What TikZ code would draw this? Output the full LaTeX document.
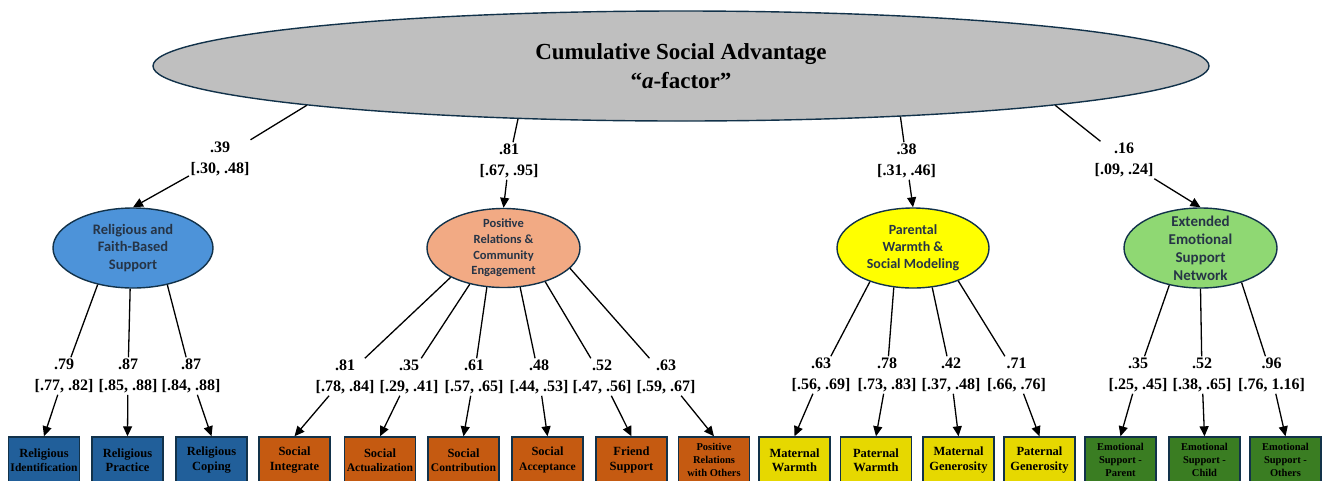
\documentclass[tikz,border=0pt]{standalone}
\usepackage{fontspec}
\setmainfont{Liberation Serif}
\newfontfamily\carl{Carlito}
\usetikzlibrary{arrows.meta,shapes.geometric,calc}
\definecolor{edgeblue}{HTML}{12324A}
\definecolor{lattext}{HTML}{263446}
\definecolor{topgray}{HTML}{BFBFBF}
\definecolor{relfill}{HTML}{4D93D9}
\definecolor{prcfill}{HTML}{F2AA84}
\definecolor{parfill}{HTML}{FFFF00}
\definecolor{extfill}{HTML}{8FD873}
\definecolor{relbox}{HTML}{215F9A}
\definecolor{prcbox}{HTML}{C55A11}
\definecolor{parbox}{HTML}{E6D800}
\definecolor{extbox}{HTML}{3A7D22}
\begin{document}
\begin{tikzpicture}[x=1pt,y=-1pt,
  lat/.style={ellipse, draw=edgeblue, line width=1.4pt, inner sep=0pt, inner ysep=-10pt, align=center, text=lattext},
  obs/.style={rectangle, draw=edgeblue, line width=1.4pt, minimum width=71pt, minimum height=46pt, inner sep=0pt, align=center, text=black, font=\bfseries\fontsize{12.5}{14.5}\selectfont},
  small3/.style={font=\bfseries\fontsize{10.5}{13}\selectfont},
  lbl/.style={align=center, inner sep=1.5pt, font=\bfseries\fontsize{16}{21}\selectfont},
  ln/.style={line width=1.3pt, black},
  arr/.style={ln, -{Triangle[length=10pt,width=9pt]}}
]
\useasboundingbox (0,0) rectangle (1322,480);
\newcommand\nw[1]{{\fontsize{11.6}{14.5}\selectfont #1}}

% top latent
\node[lat, fill=topgray, minimum width=1056pt, minimum height=110pt, text=black,
  font=\bfseries\fontsize{23}{29}\selectfont] (top) at (681,66)
  {Cumulative Social Advantage\\“\textit{a}-factor”};

% first-order latents
\node[lat, fill=relfill, minimum width=160pt, minimum height=80pt,
  font=\carl\bfseries\fontsize{14.5}{17.7}\selectfont] (rel) at (133,248)
  {Religious and\\Faith-Based\\Support};
\node[lat, fill=prcfill, minimum width=153pt, minimum height=79pt,
  font=\carl\bfseries\fontsize{12.5}{15.7}\selectfont] (prc) at (503.5,248)
  {Positive\\Relations \&\\Community\\Engagement};
\node[lat, fill=parfill, minimum width=152pt, minimum height=80pt,
  font=\carl\bfseries\fontsize{14}{17}\selectfont] (par) at (913,248)
  {Parental\\Warmth \&\\Social Modeling};
\node[lat, fill=extfill, minimum width=153pt, minimum height=80pt,
  font=\carl\bfseries\fontsize{15}{18}\selectfont] (ext) at (1200.5,248)
  {Extended\\Emotional\\Support\\Network};

% observed boxes
\node[obs, fill=relbox] (b1) at (44,460) {Religious\\\nw{Identification}};
\node[obs, fill=relbox] (b2) at (127.5,460) {Religious\\Practice};
\node[obs, fill=relbox] (b3) at (211.5,460) {Religious\\Coping};
\node[obs, fill=prcbox] (b4) at (294.5,460) {Social\\Integrate};
\node[obs, fill=prcbox] (b5) at (380,460) {Social\\\nw{Actualization}};
\node[obs, fill=prcbox] (b6) at (463.5,460) {Social\\\nw{Contribution}};
\node[obs, fill=prcbox] (b7) at (547.5,460) {Social\\\nw{Acceptance}};
\node[obs, fill=prcbox] (b8) at (631.5,460) {Friend\\Support};
\node[obs, fill=prcbox, small3] (b9) at (714,460) {Positive\\Relations\\with Others};
\node[obs, fill=parbox] (b10) at (794.5,460) {Maternal\\Warmth};
\node[obs, fill=parbox] (b11) at (876,460) {Paternal\\Warmth};
\node[obs, fill=parbox] (b12) at (958.5,460) {Maternal\\Generosity};
\node[obs, fill=parbox] (b13) at (1039.5,460) {Paternal\\Generosity};
\node[obs, fill=extbox, small3] (b14) at (1120.5,460) {Emotional\\Support -\\Parent};
\node[obs, fill=extbox, small3] (b15) at (1204.5,460) {Emotional\\Support -\\Child};
\node[obs, fill=extbox, small3] (b16) at (1285.5,460) {Emotional\\Support -\\Others};

% top loadings
\node[lbl] (t1) at (220,158.5) {.39\\{}[.30, .48]};
\node[lbl] (t2) at (509,161) {.81\\{}[.67, .95]};
\node[lbl] (t3) at (906.5,161) {.38\\{}[.31, .46]};
\node[lbl] (t4) at (1124,160) {.16\\{}[.09, .24]};
\draw[ln] (top.186) -- (t1); \draw[arr] (t1) -- (rel.north);
\draw[ln] (top.198) -- (t2); \draw[arr] (t2) -- (prc.north);
\draw[ln] (top.347) -- (t3); \draw[arr] (t3) -- (par.north);
\draw[ln] (top.354) -- (t4); \draw[arr] (t4) -- (ext.north);

% religious loadings
\node[lbl] (l1) at (64,376) {.79\\{}[.77, .82]};
\node[lbl] (l2) at (128,376) {.87\\{}[.85, .88]};
\node[lbl] (l3) at (191,376) {.87\\{}[.84, .88]};
\draw[ln] (rel.226) -- (l1); \draw[arr] (l1) -- (b1.north);
\draw[ln] (rel.266) -- (l2); \draw[arr] (l2) -- (b2.north);
\draw[ln] (rel.313) -- (l3); \draw[arr] (l3) -- (b3.north);

% positive relations loadings
\node[lbl] (l4) at (345,377) {.81\\{}[.78, .84]};
\node[lbl] (l5) at (409,377) {.35\\{}[.29, .41]};
\node[lbl] (l6) at (474,377) {.61\\{}[.57, .65]};
\node[lbl] (l7) at (539,377) {.48\\{}[.44, .53]};
\node[lbl] (l8) at (602,377) {.52\\{}[.47, .56]};
\node[lbl] (l9) at (666,377) {.63\\{}[.59, .67]};
\draw[ln] (prc.209) -- (l4); \draw[arr] (l4) -- (b4.north);
\draw[ln] (prc.227) -- (l5); \draw[arr] (l5) -- (b5.north);
\draw[ln] (prc.247) -- (l6); \draw[arr] (l6) -- (b6.north);
\draw[ln] (prc.293) -- (l7); \draw[arr] (l7) -- (b7.north);
\draw[ln] (prc.321) -- (l8); \draw[arr] (l8) -- (b8.north);
\draw[ln] (prc.343) -- (l9); \draw[arr] (l9) -- (b9.north);

% parental loadings
\node[lbl] (l10) at (821,375) {.63\\{}[.56, .69]};
\node[lbl] (l11) at (887,375) {.78\\{}[.73, .83]};
\node[lbl] (l12) at (951,375) {.42\\{}[.37, .48]};
\node[lbl] (l13) at (1016.5,375) {.71\\{}[.66, .76]};
\draw[ln] (par.218) -- (l10); \draw[arr] (l10) -- (b10.north);
\draw[ln] (par.244) -- (l11); \draw[arr] (l11) -- (b11.north);
\draw[ln] (par.296) -- (l12); \draw[arr] (l12) -- (b12.north);
\draw[ln] (par.324) -- (l13); \draw[arr] (l13) -- (b13.north);

% extended network loadings
\node[lbl] (l14) at (1138,375) {.35\\{}[.25, .45]};
\node[lbl] (l15) at (1202,375) {.52\\{}[.38, .65]};
\node[lbl] (l16) at (1271.5,375) {.96\\{}[.76, 1.16]};
\draw[ln] (ext.230) -- (l14); \draw[arr] (l14) -- (b14.north);
\draw[ln] (ext.270) -- (l15); \draw[arr] (l15) -- (b15.north);
\draw[ln] (ext.320) -- (l16); \draw[arr] (l16) -- (b16.north);
\end{tikzpicture}
\end{document}
